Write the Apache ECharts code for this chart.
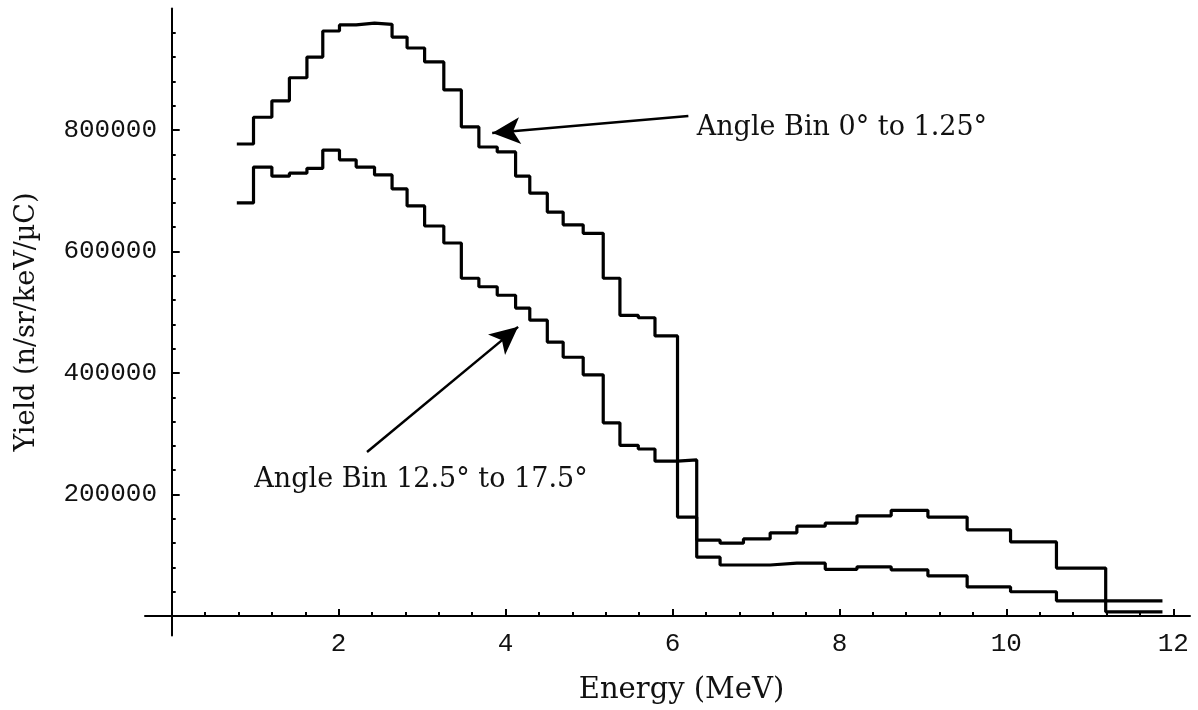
<!DOCTYPE html>
<html>
<head>
<meta charset="utf-8">
<script src="https://cdn.jsdelivr.net/npm/echarts@6/dist/echarts.min.js"></script>
<style>
  html, body { margin: 0; padding: 0; background: #fff; }
  #chart { width: 1198px; height: 710px; }
</style>
</head>
<body>
<div id="chart"></div>
<script>
// bin edges in MeV (bins get wider at high energy)
const binEdges = [0.78, 0.98, 1.20, 1.41, 1.62, 1.81, 2.01, 2.21, 2.43, 2.64, 2.82, 3.03, 3.26, 3.47, 3.68,
  3.90, 4.12, 4.29, 4.50, 4.69, 4.93, 5.17, 5.37, 5.59, 5.79, 6.06, 6.29, 6.57, 6.85, 7.17, 7.49, 7.83,
  8.21, 8.62, 9.06, 9.53, 10.05, 10.60, 11.19, 11.87]

// yield per bin, angle bin 0° to 1.25°
const yieldForward = [777000, 821000, 848000, 886000, 920000, 963000, 973000, 976000, 974000, 953000,
  935000, 912000, 866000, 805000, 772000, 764000, 724000, 696000, 665000, 644000, 630000, 556000,
  495000, 491000, 461000, 163000, 125000, 120000, 127000, 137000, 148000, 153000, 165000, 174000,
  163000, 142000, 122000, 79000, 7000]

// yield per bin, angle bin 12.5° to 17.5°
const yieldWide = [680000, 739000, 724000, 729000, 737000, 767000, 751000, 739000, 726000, 703000,
  675000, 642000, 614000, 556000, 542000, 528000, 507000, 487000, 451000, 426000, 397000, 318000,
  281000, 275000, 255000, 257000, 97000, 84000, 84000, 87000, 87000, 77000, 81000, 76000, 66000,
  48000, 40000, 25000, 25000]

const xMajorTicks = [2, 4, 6, 8, 10, 12]
const xMinorTicks = [0.4, 0.8, 1.2, 1.6, 2.4, 2.8, 3.2, 3.6, 4.4, 4.8, 5.2, 5.6, 6.4, 6.8, 7.2, 7.6,
  8.4, 8.8, 9.2, 9.6, 10.4, 10.8, 11.2, 11.6]
const yMajorTicks = [200000, 400000, 600000, 800000]
const yMinorTicks = [40000, 80000, 120000, 160000, 240000, 280000, 320000, 360000, 440000, 480000,
  520000, 560000, 640000, 680000, 720000, 760000, 840000, 880000, 920000, 960000]

const labelForward = 'Angle Bin 0° to 1.25°'
const labelWide = 'Angle Bin 12.5° to 17.5°'

const serif = '"DejaVu Serif", "Liberation Serif", serif'
const mono = '"Liberation Mono", "DejaVu Sans Mono", monospace'

// histogram outline: one point per left edge, plus the closing right edge
function histPoints(edges, vals) {
  const pts = vals.map((v, i) => [edges[i], v])
  pts.push([edges[edges.length - 1], vals[vals.length - 1]])
  return pts
}

const chart = echarts.init(document.getElementById('chart'))

const xRange = { min: -0.32, max: 12.2 }
const yRange = { min: -32000, max: 1000000 }

function arrow(from, to) {
  return {
    symbol: ['none', 'arrow'],
    symbolSize: [20, 28],
    silent: true,
    label: { show: false },
    lineStyle: { color: '#000', width: 2.5, type: 'solid' },
    data: [[{ coord: from }, { coord: to }]]
  }
}

// labels and names are laid out from the grid edge, so margins are relative to it
chart.setOption({
  animation: false,
  backgroundColor: '#fff',
  grid: { left: 145, right: 8, top: 8.5, bottom: 74.5, outerBoundsMode: 'none', containLabel: false },
  xAxis: [
    {
      type: 'value', ...xRange,
      axisLine: { onZero: true, onZeroAxisIndex: 0, lineStyle: { color: '#000', width: 2 } },
      axisTick: { inside: true, length: 7, customValues: xMajorTicks, lineStyle: { color: '#000', width: 2 } },
      axisLabel: { customValues: xMajorTicks, margin: -4, color: '#111', fontFamily: mono, fontSize: 26 },
      splitLine: { show: false },
      name: 'Energy (MeV)', nameLocation: 'middle', nameGap: 40, nameMoveOverlap: false,
      nameTextStyle: { color: '#111', fontFamily: serif, fontSize: 29, padding: [0, 0, 0, 28] }
    },
    {
      type: 'value', ...xRange, position: 'bottom',
      axisLine: { show: false, onZero: true, onZeroAxisIndex: 0 },
      axisTick: { inside: true, length: 4, customValues: xMinorTicks, lineStyle: { color: '#000', width: 2 } },
      axisLabel: { show: false },
      splitLine: { show: false }
    }
  ],
  yAxis: [
    {
      type: 'value', ...yRange,
      axisLine: { show: true, onZero: true, onZeroAxisIndex: 0, lineStyle: { color: '#000', width: 2 } },
      axisTick: { show: true, inside: true, length: 8, customValues: yMajorTicks, lineStyle: { color: '#000', width: 2 } },
      axisLabel: { customValues: yMajorTicks, margin: -12, color: '#111', fontFamily: mono, fontSize: 26, formatter: v => String(v) },
      splitLine: { show: false },
      name: 'Yield (n/sr/keV/µC)', nameLocation: 'middle', nameGap: 105, nameMoveOverlap: false,
      nameTextStyle: { color: '#111', fontFamily: serif, fontSize: 27 }
    },
    {
      type: 'value', ...yRange, position: 'left',
      axisLine: { show: false, onZero: true, onZeroAxisIndex: 0 },
      axisTick: { show: true, inside: true, length: 4, customValues: yMinorTicks, lineStyle: { color: '#000', width: 2 } },
      axisLabel: { show: false },
      splitLine: { show: false }
    }
  ],
  series: [
    {
      name: labelForward, type: 'line', step: 'end', showSymbol: false,
      data: histPoints(binEdges, yieldForward),
      lineStyle: { color: '#000', width: 3.2 },
      markLine: arrow([6.19, 823000], [3.84, 795000])
    },
    {
      name: labelWide, type: 'line', step: 'end', showSymbol: false,
      data: histPoints(binEdges, yieldWide),
      lineStyle: { color: '#000', width: 3.2 },
      markLine: arrow([2.34, 270000], [4.15, 476000])
    }
  ]
})

// annotation texts, anchored in data coordinates
const pUp = chart.convertToPixel({ gridIndex: 0 }, [6.29, 803000])
const pLow = chart.convertToPixel({ gridIndex: 0 }, [0.99, 224000])
chart.setOption({
  graphic: [
    { type: 'text', x: pUp[0], y: pUp[1], style: { text: labelForward, font: '27px ' + serif, fill: '#111', verticalAlign: 'middle' } },
    { type: 'text', x: pLow[0], y: pLow[1], style: { text: labelWide, font: '27px ' + serif, fill: '#111', verticalAlign: 'middle' } }
  ]
})
</script>
</body>
</html>
